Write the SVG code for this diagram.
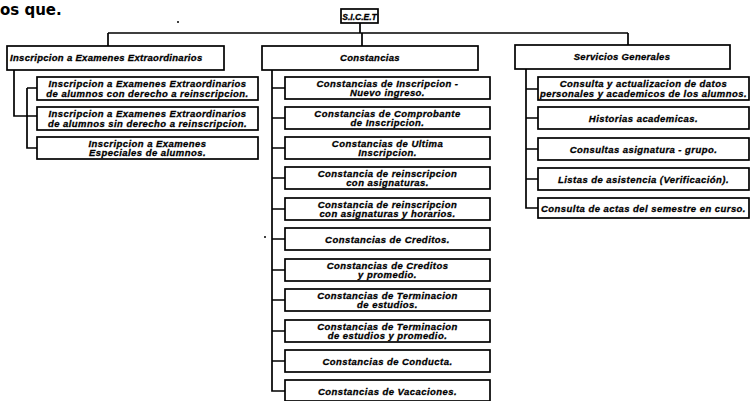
<svg xmlns="http://www.w3.org/2000/svg" width="752" height="401" viewBox="0 0 752 401">
<style>
.b{fill:#fff;stroke:#000;stroke-width:1.7}
.t{font-family:"Liberation Sans",Arial,sans-serif;font-weight:bold;font-style:italic;font-size:9.5px;letter-spacing:0.45px;fill:#000;stroke:#000;stroke-width:0.3;text-anchor:middle}
.h{font-family:"Liberation Sans",Arial,sans-serif;font-weight:bold;font-style:italic;font-size:9.5px;letter-spacing:0.3px;fill:#000;stroke:#000;stroke-width:0.3}
.c{fill:none;stroke:#000;stroke-width:1.7}
</style>
<rect width="752" height="401" fill="#fff"/>
<text x="0" y="15" style="font-family:'DejaVu Sans',sans-serif;font-size:15px;font-weight:600" fill="#000">os que.</text>
<circle cx="178" cy="22" r="1" fill="#000"/>
<circle cx="265" cy="237" r="1" fill="#000"/>
<g id="connectors">
<path class="c" d="M360 23V33M108 33H628M108 33V46M362 33V46M628 33V45"/>
<path class="c" d="M14 70V116H37M27 88H37M27 88V148H37"/>
<path class="c" d="M272 70V391H285M272 88H285M272 118H285M272 148H285M272 178H285M272 209H285M272 239H285M272 270H285M272 300H285M272 331H285M272 361H285"/>
<path class="c" d="M526 69V208H538M526 89H538M526 118H538M526 149H538M526 179H538"/>
</g>
<g id="root"><rect class="b" x="341" y="9" width="37" height="14"/><text class="t" x="359.5" y="19.5" style="font-size:8.5px;letter-spacing:0">S.I.C.E.T</text></g>
<g id="inscripcion"><rect class="b" x="7" y="46" width="217" height="24"/><text class="h" x="10" y="61">Inscripcion a Examenes Extraordinarios</text></g>
<g id="insc1"><rect class="b" x="37" y="77" width="221" height="23"/><text class="t" x="147.5" y="87">Inscripcion a Examenes Extraordinarios</text><text class="t" x="147.5" y="96.5">de alumnos con derecho a reinscripcion.</text></g>
<g id="insc2"><rect class="b" x="37" y="107" width="221" height="23"/><text class="t" x="147.5" y="117">Inscripcion a Examenes Extraordinarios</text><text class="t" x="147.5" y="126.5">de alumnos sin derecho a reinscripcion.</text></g>
<g id="insc3"><rect class="b" x="37" y="137" width="221" height="22"/><text class="t" x="147.5" y="146.5">Inscripcion a Examenes</text><text class="t" x="147.5" y="156">Especiales de alumnos.</text></g>
<g id="constancias"><rect class="b" x="262" y="46" width="216" height="24"/><text class="h" x="370" y="61" text-anchor="middle">Constancias</text></g>
<g id="c1"><rect class="b" x="285" y="77" width="205" height="22"/><text class="t" x="387.5" y="86.5">Constancias de Inscripcion -</text><text class="t" x="387.5" y="96">Nuevo ingreso.</text></g>
<g id="c2"><rect class="b" x="285" y="107" width="205" height="22"/><text class="t" x="387.5" y="116.5">Constancias de Comprobante</text><text class="t" x="387.5" y="126">de Inscripcion.</text></g>
<g id="c3"><rect class="b" x="285" y="137" width="205" height="22"/><text class="t" x="387.5" y="146.5">Constancias de Ultima</text><text class="t" x="387.5" y="156">Inscripcion.</text></g>
<g id="c4"><rect class="b" x="285" y="167" width="205" height="22"/><text class="t" x="387.5" y="176.5">Constancia de reinscripcion</text><text class="t" x="387.5" y="186">con asignaturas.</text></g>
<g id="c5"><rect class="b" x="285" y="198" width="205" height="22"/><text class="t" x="387.5" y="207.5">Constancia de reinscripcion</text><text class="t" x="387.5" y="217">con asignaturas y horarios.</text></g>
<g id="c6"><rect class="b" x="285" y="228" width="205" height="22"/><text class="t" x="387.5" y="242.5">Constancias de Creditos.</text></g>
<g id="c7"><rect class="b" x="285" y="259" width="205" height="22"/><text class="t" x="387.5" y="268.5">Constancias de Creditos</text><text class="t" x="387.5" y="278">y promedio.</text></g>
<g id="c8"><rect class="b" x="285" y="289" width="205" height="22"/><text class="t" x="387.5" y="298.5">Constancias de Terminacion</text><text class="t" x="387.5" y="308">de estudios.</text></g>
<g id="c9"><rect class="b" x="285" y="320" width="205" height="22"/><text class="t" x="387.5" y="329.5">Constancias de Terminacion</text><text class="t" x="387.5" y="339">de estudios y promedio.</text></g>
<g id="c10"><rect class="b" x="285" y="350" width="205" height="22"/><text class="t" x="387.5" y="364.5">Constancias de Conducta.</text></g>
<g id="c11"><rect class="b" x="285" y="380" width="205" height="21"/><text class="t" x="387.5" y="394.5">Constancias de Vacaciones.</text></g>
<g id="servicios"><rect class="b" x="515" y="45" width="215" height="24"/><text class="h" x="622" y="60" text-anchor="middle">Servicios Generales</text></g>
<g id="s1"><rect class="b" x="538" y="77" width="211" height="23"/><text class="t" x="643.5" y="87">Consulta y actualizacion de datos</text><text class="t" x="643.5" y="96.5">personales y academicos de los alumnos.</text></g>
<g id="s2"><rect class="b" x="538" y="107" width="211" height="22"/><text class="t" x="643.5" y="121.5">Historias academicas.</text></g>
<g id="s3"><rect class="b" x="538" y="138" width="211" height="22"/><text class="t" x="643.5" y="152.5">Consultas asignatura - grupo.</text></g>
<g id="s4"><rect class="b" x="538" y="168" width="211" height="22"/><text class="t" x="643.5" y="182.5">Listas de asistencia (Verificación).</text></g>
<g id="s5"><rect class="b" x="538" y="198" width="211" height="20"/><text class="t" x="643.5" y="211.5">Consulta de actas del semestre en curso.</text></g>
</svg>
